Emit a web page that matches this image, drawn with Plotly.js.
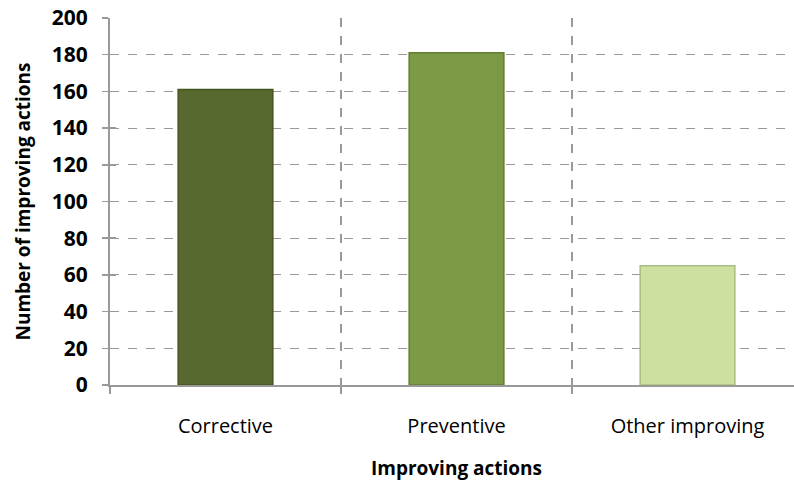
<!DOCTYPE html>
<html>
<head>
<meta charset="utf-8">
<script src="https://cdn.plot.ly/plotly-3.0.1.min.js"></script>
<style>
html,body{margin:0;padding:0;overflow:hidden;background:#fff;}
#chart{width:803px;height:482px;}
</style>
</head>
<body>
<div id="chart"></div>
<script>
const categories = ["Corrective", "Preventive", "Other improving"];
const values = [161, 181, 65];
const barColors = ["#57692F", "#7C9A45", "#CEE0A0"];
const barEdges = ["#46551F", "#637D33", "#A9BE7C"];
const yTicks = [0, 20, 40, 60, 80, 100, 120, 140, 160, 180, 200];

const FONT = "'Open Sans', Lato, sans-serif";

const data = [{
  type: "bar",
  x: categories,
  y: values,
  marker: {color: barColors, line: {color: barEdges, width: 1.5}},
  width: 0.41,
  hoverinfo: "x+y"
}, {
  type: "scatter",
  x: categories,
  y: values,
  yaxis: "y2",
  mode: "none",
  showlegend: false,
  hoverinfo: "skip"
}];

const layout = {
  width: 803,
  height: 482,
  margin: {l: 110, r: 0, t: 18, b: 97},
  paper_bgcolor: "#fff",
  plot_bgcolor: "#fff",
  showlegend: false,
  font: {family: FONT, color: "#000"},
  xaxis: {
    type: "category",
    range: [-0.5, 2.5],
    tickson: "boundaries",
    ticks: "outside",
    ticklen: 7,
    tickwidth: 1.5,
    tickcolor: "#999",
    showgrid: true,
    gridcolor: "#999",
    gridwidth: 1.2,
    griddash: "dash",
    showline: true,
    linecolor: "#999",
    linewidth: 2,
    tickfont: {family: FONT, size: 20, color: "#000"},
    ticklabelstandoff: 22,
    title: {text: "<b>Improving actions</b>", font: {family: FONT, size: 19, color: "#000"}, standoff: 24},
    fixedrange: true
  },
  yaxis: {
    range: [0, 200],
    tickvals: yTicks,
    ticktext: yTicks.map(v => "<b>" + v + "</b>"),
    ticks: "outside",
    ticklen: 6,
    tickwidth: 1.5,
    tickcolor: "#999",
    showgrid: true,
    gridcolor: "#999",
    gridwidth: 1.2,
    griddash: "dash",
    showline: true,
    linecolor: "#999",
    linewidth: 2,
    zeroline: false,
    tickfont: {family: FONT, size: 21, color: "#000"},
    ticklabelstandoff: 10,
    title: {text: "<b>Number of improving actions</b>", font: {family: FONT, size: 19, color: "#000"}, standoff: 16},
    fixedrange: true
  },
  yaxis2: {
    overlaying: "y",
    side: "left",
    range: [0, 200],
    tickvals: yTicks,
    showticklabels: false,
    ticks: "inside",
    ticklen: 6,
    tickwidth: 1.5,
    tickcolor: "#999",
    showgrid: false,
    zeroline: false,
    showline: false,
    fixedrange: true
  }
};

Plotly.newPlot("chart", data, layout, {displayModeBar: false, staticPlot: true});
</script>
</body>
</html>
